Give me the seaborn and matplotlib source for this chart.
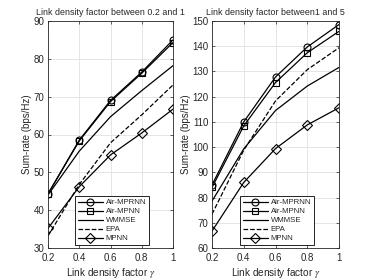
import numpy as np
import pandas as pd
import matplotlib
matplotlib.use("Agg")
import matplotlib.pyplot as plt
import seaborn as sns

# ---- data ----
gamma = [0.2, 0.4, 0.6, 0.8, 1.0]
methods = ["Air-MPRNN", "Air-MPNN", "WMMSE", "EPA", "MPNN"]

# left: link density factor in [0.2, 1]
left_air_mprnn = [44.3, 58.5, 69.0, 76.5, 85.0]
left_air_mpnn = [44.3, 58.3, 68.7, 76.2, 84.3]
left_wmmse = [44.0, 55.6, 64.7, 71.6, 78.2]
left_epa = [33.2, 46.8, 57.8, 65.2, 73.1]
left_mpnn = [35.2, 46.2, 54.6, 60.4, 66.7]

# right: link density factor in [1, 5]
right_air_mprnn = [85.0, 110.0, 127.8, 139.7, 148.6]
right_air_mpnn = [84.0, 108.4, 125.6, 137.4, 145.9]
right_wmmse = [78.6, 99.3, 114.5, 124.2, 131.6]
right_epa = [73.4, 98.8, 118.3, 130.7, 139.4]
right_mpnn = [66.7, 86.0, 99.4, 108.8, 115.6]

styles = {
    "Air-MPRNN": dict(marker="o", linestyle="-"),
    "Air-MPNN": dict(marker="s", linestyle="-"),
    "WMMSE": dict(marker="", linestyle="-"),
    "EPA": dict(marker="", linestyle="--"),
    "MPNN": dict(marker="D", linestyle="-"),
}


def make_df(vals):
    rows = []
    for m, v in zip(methods, vals):
        for g, y in zip(gamma, v):
            rows.append({"gamma": g, "rate": y, "method": m})
    return pd.DataFrame(rows)


sns.set_theme(style="ticks")
plt.rcParams["font.family"] = ["Liberation Sans", "DejaVu Sans"]
plt.rcParams["mathtext.fontset"] = "stix"

fig = plt.figure(figsize=(3.74, 2.8), dpi=100)
ax1 = fig.add_axes([48 / 374, 1 - 248 / 280, 125 / 374, 227 / 280])
ax2 = fig.add_axes([212 / 374, 1 - 248 / 280, 127 / 374, 227 / 280])

panels = [
    (ax1, make_df([left_air_mprnn, left_air_mpnn, left_wmmse, left_epa, left_mpnn]),
     "Link density factor between 0.2 and 1", (30, 90), np.arange(30, 91, 10), 0.215),
    (ax2, make_df([right_air_mprnn, right_air_mpnn, right_wmmse, right_epa, right_mpnn]),
     "Link density factor between1 and 5", (60, 150), np.arange(60, 151, 10), 0.22),
]

for ax, df, title, ylim, yticks, legx in panels:
    for m in methods:
        st = styles[m]
        sns.lineplot(data=df[df["method"] == m], x="gamma", y="rate", ax=ax,
                     color="black", linewidth=0.9, marker=st["marker"] or None,
                     linestyle=st["linestyle"], markersize=5,
                     markerfacecolor="none", markeredgecolor="black",
                     markeredgewidth=0.8, label=m)
    ax.set_xlim(0.2, 1.0)
    ax.set_ylim(*ylim)
    ax.set_xticks([0.2, 0.4, 0.6, 0.8, 1.0])
    ax.set_xticklabels(["0.2", "0.4", "0.6", "0.8", "1"])
    ax.set_yticks(yticks)
    ax.grid(True, color="#e0e0e0", linewidth=0.6)
    ax.tick_params(direction="in", labelsize=7, length=2.5, width=0.5,
                   colors="#262626", top=True, right=True)
    ax.tick_params(axis="x", pad=3.5)
    ax.tick_params(axis="y", pad=2.5)
    for sp in ax.spines.values():
        sp.set_linewidth(0.6)
        sp.set_color("#262626")
    ax.set_title(title, fontsize=6.4, pad=4.5, color="#262626")
    ax.set_xlabel(r"Link density factor $\gamma$", fontsize=7.2, labelpad=2, color="#262626")
    ax.set_ylabel("Sum-rate (bps/Hz)", fontsize=7, labelpad=1, color="#262626")
    leg = ax.legend(loc="lower left", bbox_to_anchor=(legx, 0.013), fontsize=5.6,
                    handlelength=3.3, handletextpad=0.3, borderpad=0.35,
                    labelspacing=0.2, frameon=True, fancybox=False,
                    borderaxespad=0.0)
    leg.get_frame().set_edgecolor("black")
    leg.get_frame().set_linewidth(0.6)
    leg.get_frame().set_alpha(1)

fig.savefig("out.png", dpi=100)
